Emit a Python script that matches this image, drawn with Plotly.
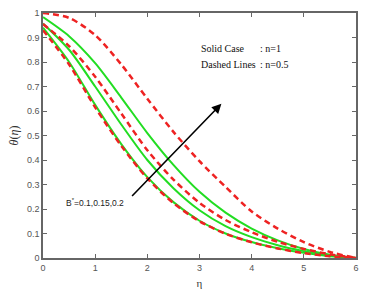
import plotly.graph_objects as go

eta = [0, 0.5, 1, 1.5, 2, 2.5, 3, 3.5, 4, 4.5, 5, 5.5, 6]

# Solid lines (n = 1), B* = 0.1, 0.15, 0.2
solid_low = [0.94, 0.80, 0.625, 0.465, 0.33, 0.228, 0.152, 0.10, 0.065, 0.04, 0.021, 0.007, 0.0]
solid_mid = [0.957, 0.85, 0.70, 0.545, 0.40, 0.285, 0.195, 0.13, 0.085, 0.052, 0.028, 0.01, 0.0]
solid_high = [0.983, 0.905, 0.795, 0.655, 0.51, 0.38, 0.27, 0.185, 0.12, 0.072, 0.037, 0.013, 0.0]

# Dashed lines (n = 0.5), B* = 0.1, 0.15, 0.2
dashed_low = [0.93, 0.79, 0.615, 0.458, 0.325, 0.224, 0.15, 0.099, 0.064, 0.039, 0.02, 0.007, 0.0]
dashed_mid = [0.955, 0.865, 0.74, 0.59, 0.44, 0.32, 0.225, 0.155, 0.105, 0.066, 0.037, 0.015, 0.0]
dashed_high = [1.0, 0.98, 0.91, 0.79, 0.65, 0.515, 0.395, 0.29, 0.19, 0.12, 0.065, 0.025, 0.0]

x_ticks = [0, 1, 2, 3, 4, 5, 6]
y_ticks = [0, 0.1, 0.2, 0.3, 0.4, 0.5, 0.6, 0.7, 0.8, 0.9, 1]
y_tick_labels = ["0", "0.1", "0.2", "0.3", "0.4", "0.5", "0.6", "0.7", "0.8", "0.9", "1"]

GREEN = "#22dd22"
RED = "#ee2222"

fig = go.Figure()
for ys in [solid_low, solid_mid, solid_high]:
    fig.add_trace(go.Scatter(x=eta, y=ys, mode="lines",
                             line=dict(color=GREEN, width=2, shape="spline", smoothing=0.8),
                             showlegend=False, hoverinfo="skip"))
for ys in [dashed_low, dashed_mid, dashed_high]:
    fig.add_trace(go.Scatter(x=eta, y=ys, mode="lines",
                             line=dict(color=RED, width=2.5, shape="spline", smoothing=0.8, dash="6px,4px"),
                             showlegend=False, hoverinfo="skip"))

axis_common = dict(showline=True, linecolor="#666666", linewidth=1.5, mirror="ticks",
                   ticks="inside", ticklen=4, tickcolor="#666666", showgrid=False,
                   zeroline=False, ticklabeloverflow="allow",
                   tickfont=dict(family="Arial, Liberation Sans", size=9, color="#555555"))

fig.update_xaxes(range=[0, 6], tickvals=x_ticks, ticktext=[str(v) for v in x_ticks],
                 title=dict(text="η", font=dict(family="Liberation Serif", size=11, color="#333333"), standoff=8),
                 **axis_common)
fig.update_yaxes(range=[0, 1], tickvals=y_ticks, ticktext=y_tick_labels,
                 title=dict(text="<i>θ</i>(<i>η</i>)", font=dict(family="Liberation Serif", size=12, color="#333333"), standoff=6),
                 **axis_common)

note_font = dict(family="Liberation Serif", size=10, color="#111111")
fig.add_annotation(x=2.99, y=0.855, xref="x", yref="y", text="Solid Case",
                   showarrow=False, xanchor="left", yanchor="middle", font=note_font)
fig.add_annotation(x=4.13, y=0.855, xref="x", yref="y", text=": n=1",
                   showarrow=False, xanchor="left", yanchor="middle", font=note_font)
fig.add_annotation(x=2.99, y=0.79, xref="x", yref="y", text="Dashed Lines",
                   showarrow=False, xanchor="left", yanchor="middle", font=note_font)
fig.add_annotation(x=4.13, y=0.79, xref="x", yref="y", text=": n=0.5",
                   showarrow=False, xanchor="left", yanchor="middle", font=note_font)

# Arrow showing increasing B*
fig.add_annotation(x=3.42, y=0.63, ax=1.68, ay=0.247, xref="x", yref="y", axref="x", ayref="y",
                   text="", showarrow=True, arrowhead=2, arrowsize=1.2, arrowwidth=1.6, arrowcolor="#000000")
fig.add_annotation(x=1.6, y=0.226, xref="x", yref="y", text="B<sup>*</sup>=0.1,0.15,0.2",
                   showarrow=False, xanchor="right", yanchor="middle",
                   font=dict(family="Arial, Liberation Sans", size=8.5, color="#222222"))

fig.update_layout(width=367, height=298, margin=dict(l=43, r=8, t=10, b=40),
                  paper_bgcolor="white", plot_bgcolor="white")

fig.write_html("out.html", config={"displayModeBar": False},
               post_script="document.body.style.margin='0';document.body.style.padding='0';")
